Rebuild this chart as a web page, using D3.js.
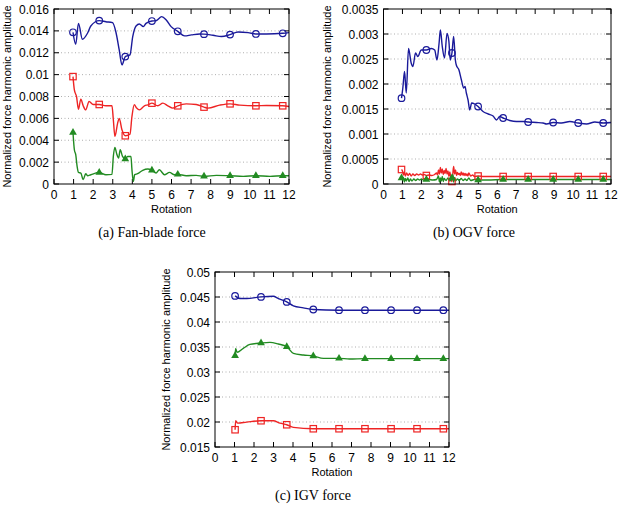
<!DOCTYPE html>
<html>
<head>
<meta charset="utf-8">
<script src="https://cdn.jsdelivr.net/npm/d3@7"></script>
<style>
  body { margin: 0; background: #fff; }
  svg { display: block; }
  .tick-label { font-family: "Liberation Sans", Arial, sans-serif; font-size: 12px; fill: #000; }
  .axis-title { font-family: "Liberation Sans", Arial, sans-serif; font-size: 11px; fill: #000; }
  .caption { font-family: "Liberation Serif", "DejaVu Serif", serif; font-size: 14px; fill: #000; }
</style>
</head>
<body>
<svg id="chart" width="621" height="510"></svg>
<script>
// ---- data ----
const xTicks = [0, 1, 2, 3, 4, 5, 6, 7, 8, 9, 10, 11, 12];

// (a) Fan-blade force
const fanTicks = ["0", "0.002", "0.004", "0.006", "0.008", "0.01", "0.012", "0.014", "0.016"];
const fanMarkX = [0.97, 2.31, 3.64, 5.0, 6.32, 7.66, 8.99, 10.31, 11.68];
const fanBlue = [
  [0.97, 0.01387], [1.11, 0.01278], [1.25, 0.01469], [1.45, 0.01323], [1.71, 0.01378], [1.88, 0.01445],
  [2.31, 0.01494], [2.65, 0.01484], [2.99, 0.01475], [3.16, 0.0139], [3.33, 0.01226], [3.47, 0.01089],
  [3.64, 0.01165], [3.88, 0.0118], [4.02, 0.01348], [4.19, 0.01445], [4.36, 0.01463], [4.56, 0.01439],
  [4.7, 0.01469], [5.0, 0.0149], [5.21, 0.01493], [5.5, 0.0153], [5.73, 0.015], [5.98, 0.01439],
  [6.32, 0.01396], [6.67, 0.01354], [7.01, 0.01363], [7.44, 0.01372], [7.66, 0.0137], [8.12, 0.0136],
  [8.55, 0.01348], [8.99, 0.01366], [9.4, 0.0139], [9.91, 0.01384], [10.31, 0.01372], [10.85, 0.01372],
  [11.68, 0.01378], [12, 0.01384]
];
const fanRed = [
  [0.97, 0.00982], [1.04, 0.0086], [1.15, 0.008], [1.25, 0.00684], [1.37, 0.00776], [1.49, 0.00715],
  [1.62, 0.00678], [1.79, 0.00754], [2.0, 0.00727], [2.31, 0.00727], [2.65, 0.00715], [2.96, 0.00715],
  [3.03, 0.00587], [3.11, 0.00435], [3.25, 0.00557], [3.33, 0.006], [3.47, 0.00496], [3.64, 0.00441],
  [3.88, 0.00456], [3.98, 0.00617], [4.1, 0.00724], [4.22, 0.00694], [4.36, 0.00678], [4.62, 0.00715],
  [4.79, 0.00724], [5.0, 0.00739], [5.3, 0.00715], [5.56, 0.00739], [5.81, 0.00715], [6.07, 0.00694],
  [6.32, 0.00715], [6.75, 0.00733], [7.26, 0.00727], [7.66, 0.00703], [7.86, 0.00694], [8.46, 0.00721],
  [8.99, 0.00733], [9.49, 0.00721], [10.31, 0.00715], [10.85, 0.00718], [11.68, 0.00715], [12, 0.00709]
];
const fanGreen = [
  [0.97, 0.00471], [1.04, 0.00313], [1.11, 0.00268], [1.18, 0.00161], [1.25, 0.00106], [1.37, 0.001],
  [1.49, 0.0004], [1.62, 0.00094], [1.71, 0.00076], [1.88, 0.00085], [2.31, 0.00106], [2.65, 0.00085],
  [2.96, 0.00088], [3.03, 0.00252], [3.11, 0.00335], [3.2, 0.00277], [3.3, 0.00237], [3.38, 0.00313],
  [3.5, 0.00252], [3.64, 0.00228], [3.76, 0.00252], [3.93, 0.00252], [3.98, 0.00131], [4.05, 0.00024],
  [4.12, 0.00085], [4.27, 0.00094], [4.53, 0.00125], [4.79, 0.00137], [5.0, 0.00125], [5.21, 0.001],
  [5.38, 0.0013], [5.64, 0.00085], [5.9, 0.00106], [6.15, 0.00085], [6.32, 0.00088], [6.75, 0.00076],
  [7.26, 0.00079], [7.66, 0.0007], [8.29, 0.00079], [8.99, 0.00076], [9.66, 0.0007], [10.31, 0.00076],
  [11.03, 0.0007], [11.68, 0.00076], [12, 0.00076]
];

// (b) OGV force
const ogvTicks = ["0", "0.0005", "0.001", "0.0015", "0.002", "0.0025", "0.003", "0.0035"];
const ogvMarkX = [0.95, 2.26, 3.61, 4.99, 6.31, 7.63, 8.95, 10.27, 11.59];
const ogvBlue = [
  [0.95, 0.001717], [1.02, 0.00192], [1.11, 0.00225], [1.2, 0.00182], [1.32, 0.00271], [1.46, 0.00242],
  [1.55, 0.00235], [1.69, 0.00262], [1.81, 0.00255], [1.99, 0.00268], [2.26, 0.00268], [2.52, 0.00271],
  [2.7, 0.00268], [2.82, 0.00248], [2.93, 0.00281], [3.0, 0.00308], [3.1, 0.00275], [3.22, 0.00252],
  [3.35, 0.00301], [3.45, 0.00285], [3.52, 0.00248], [3.61, 0.00262], [3.7, 0.00295], [3.79, 0.00248],
  [3.84, 0.00238], [3.98, 0.00228], [4.11, 0.00208], [4.23, 0.00192], [4.3, 0.00195], [4.37, 0.00182],
  [4.46, 0.00168], [4.55, 0.00148], [4.65, 0.00162], [4.81, 0.0016], [4.99, 0.00155], [5.25, 0.00145],
  [5.52, 0.0014], [5.78, 0.00136], [5.96, 0.00128], [6.13, 0.00135], [6.31, 0.00132], [6.66, 0.00127],
  [7.01, 0.00125], [7.37, 0.00125], [7.63, 0.00124], [8.07, 0.00123], [8.42, 0.00122], [8.6, 0.0012],
  [8.95, 0.00123], [9.39, 0.00122], [9.83, 0.00125], [10.27, 0.00122], [10.71, 0.0012], [11.15, 0.00124],
  [11.59, 0.00122], [12, 0.00123]
];
const ogvRed = [
  [0.95, 0.00029], [1.0, 0.00026], [1.05, 0.00018], [1.1, 0.00024], [1.15, 0.00016], [1.22, 0.00022],
  [1.3, 0.00017], [1.38, 0.00021], [1.46, 0.00016], [1.55, 0.0002], [1.65, 0.00017], [1.75, 0.0002],
  [1.85, 0.00018], [1.95, 0.0002], [2.05, 0.00018], [2.15, 0.00019], [2.26, 0.00017], [2.4, 0.00018],
  [2.55, 0.00017], [2.7, 0.00019], [2.8, 0.00022], [2.85, 0.00018], [2.9, 0.00028], [2.95, 0.0002],
  [3.0, 0.00033], [3.05, 0.00022], [3.1, 0.0003], [3.15, 0.00019], [3.2, 0.00027], [3.25, 0.00021],
  [3.3, 0.00031], [3.35, 0.0002], [3.4, 0.00026], [3.45, 0.00015], [3.5, 0.00024], [3.55, 0.00012],
  [3.61, 0.00005], [3.66, 0.00022], [3.7, 0.00035], [3.75, 0.0002], [3.8, 0.00028], [3.85, 0.00017],
  [3.9, 0.00023], [3.95, 0.00019], [4.0, 0.00021], [4.05, 0.00017], [4.1, 0.00024], [4.15, 0.00018],
  [4.2, 0.00022], [4.25, 0.00017], [4.3, 0.00021], [4.35, 0.00017], [4.4, 0.0002], [4.45, 0.00016],
  [4.5, 0.00022], [4.6, 0.00016], [4.7, 0.00018], [4.8, 0.00015], [4.99, 0.00016], [5.3, 0.00015],
  [5.7, 0.00015], [6.31, 0.00015], [7.0, 0.00015], [7.63, 0.00015], [8.3, 0.00015], [8.95, 0.00015],
  [9.6, 0.00015], [10.27, 0.00015], [10.9, 0.00015], [11.59, 0.00015], [12, 0.00015]
];
const ogvGreen = [
  [0.95, 0.00012], [1.0, 0.00008], [1.05, 0.00013], [1.1, 0.00004], [1.15, 0.00011], [1.2, 0.00006],
  [1.28, 0.00012], [1.35, 0.00005], [1.42, 0.0001], [1.5, 0.00006], [1.6, 0.0001], [1.7, 0.00007],
  [1.8, 0.0001], [1.9, 0.00008], [2.0, 0.0001], [2.1, 0.00008], [2.26, 0.00009], [2.4, 0.00009],
  [2.6, 0.00008], [2.8, 0.00009], [2.9, 0.00016], [2.95, 0.00004], [3.0, 0.00012], [3.05, 0.00006],
  [3.1, 0.00015], [3.15, 0.00005], [3.2, 0.00011], [3.3, 0.00007], [3.4, 0.00012], [3.5, 0.00006],
  [3.61, 0.00012], [3.66, 0.00018], [3.7, 0.00004], [3.75, 0.00013], [3.8, 0.00006], [3.9, 0.0001],
  [4.0, 0.00007], [4.1, 0.00011], [4.2, 0.00007], [4.3, 0.0001], [4.4, 0.00007], [4.5, 0.00012],
  [4.6, 0.00007], [4.8, 0.00009], [4.99, 0.00008], [5.5, 0.00008], [6.31, 0.00009], [7.0, 0.00009],
  [7.63, 0.00009], [8.3, 0.00009], [8.95, 0.00009], [9.6, 0.00009], [10.27, 0.00009], [10.9, 0.00009],
  [11.59, 0.00009], [12, 0.00009]
];

// (c) IGV force
const igvTicks = ["0.015", "0.02", "0.025", "0.03", "0.035", "0.04", "0.045", "0.05"];
const igvMarkX = [1.03, 2.36, 3.68, 5.04, 6.36, 7.69, 9.03, 10.36, 11.71];
const igvBlue = [
  [1.03, 0.04522], [1.28, 0.04469], [1.62, 0.04469], [2.36, 0.04502], [2.99, 0.04515], [3.25, 0.04469],
  [3.68, 0.04402], [4.02, 0.04323], [4.53, 0.04283], [5.04, 0.0425], [6.36, 0.04236], [7.69, 0.04236],
  [9.03, 0.04236], [10.36, 0.04236], [11.71, 0.04236], [12, 0.04236]
];
const igvGreen = [
  [1.03, 0.03326], [1.06, 0.03473], [1.13, 0.03393], [1.45, 0.03473], [1.79, 0.03552], [2.36, 0.03579],
  [2.82, 0.03592], [3.25, 0.03559], [3.68, 0.03506], [4.02, 0.03373], [4.53, 0.0334], [5.04, 0.0332],
  [5.56, 0.03273], [6.36, 0.03273], [6.9, 0.0326], [7.69, 0.03267], [9.03, 0.03267], [10.36, 0.03267],
  [11.71, 0.03267], [12, 0.03267]
];
const igvRed = [
  [1.03, 0.01845], [1.06, 0.02025], [1.16, 0.01978], [1.62, 0.01998], [2.36, 0.02025], [2.99, 0.02025],
  [3.33, 0.01978], [3.68, 0.01945], [4.02, 0.01892], [5.04, 0.01865], [6.36, 0.01865], [7.69, 0.01865],
  [9.03, 0.01865], [10.36, 0.01865], [11.71, 0.01865], [12, 0.01865]
];

const blue = "#1a1a9a", red = "#ee2424", green = "#228b22";

const svg = d3.select("#chart");

function drawPanel(p) {
  const xScale = d3.scaleLinear().domain([0, 12]).range([p.left, p.right]);
  const yScale = d3.scaleLinear().domain([+p.ticks[0], +p.ticks[p.ticks.length - 1]]).range([p.bottom, p.top]);
  const g = svg.append("g");

  // dotted grid
  g.selectAll(".grid").data(p.ticks.slice(1, -1)).enter().append("line")
    .attr("x1", p.left).attr("x2", p.right)
    .attr("y1", (d) => yScale(+d)).attr("y2", (d) => yScale(+d))
    .attr("stroke", "#9a9a9a").attr("stroke-width", 0.8).attr("stroke-dasharray", "1,2.5");

  // inward ticks on all four sides
  const tl = 5;
  xTicks.forEach((t) => {
    const x = xScale(t);
    g.append("line").attr("x1", x).attr("x2", x).attr("y1", p.bottom).attr("y2", p.bottom - tl).attr("stroke", "#000");
    g.append("line").attr("x1", x).attr("x2", x).attr("y1", p.top).attr("y2", p.top + tl).attr("stroke", "#000");
  });
  p.ticks.forEach((t) => {
    const y = yScale(+t);
    g.append("line").attr("x1", p.left).attr("x2", p.left + tl).attr("y1", y).attr("y2", y).attr("stroke", "#000");
    g.append("line").attr("x1", p.right).attr("x2", p.right - tl).attr("y1", y).attr("y2", y).attr("stroke", "#000");
  });

  // tick labels
  g.selectAll(".xl").data(xTicks).enter().append("text").attr("class", "tick-label")
    .attr("x", (d) => xScale(d)).attr("y", p.bottom + 15).attr("text-anchor", "middle").text((d) => d);
  g.selectAll(".yl").data(p.ticks).enter().append("text").attr("class", "tick-label")
    .attr("x", p.left - 5).attr("y", (d) => yScale(+d) + 4.5).attr("text-anchor", "end").text((d) => d);

  // titles
  g.append("text").attr("class", "axis-title").attr("x", (p.left + p.right) / 2).attr("y", p.bottom + 28.5)
    .attr("text-anchor", "middle").text("Rotation");
  g.append("text").attr("class", "axis-title")
    .attr("transform", `translate(${p.yLabelX},${(p.top + p.bottom) / 2}) rotate(-90)`)
    .attr("text-anchor", "middle").text("Normalized force harmonic amplitude");
  g.append("text").attr("class", "caption").attr("x", p.capX).attr("y", p.bottom + 53)
    .attr("text-anchor", "middle").text(p.caption);

  const line = d3.line().x((d) => xScale(d[0])).y((d) => yScale(d[1])).curve(d3.curveMonotoneX);
  const isMark = (d) => p.markX.includes(d[0]);

  // lines
  p.series.forEach((s) => {
    g.append("path").datum(s.data).attr("fill", "none").attr("stroke", s.color)
      .attr("stroke-width", 1.4).attr("d", line);
  });

  // markers
  p.series.forEach((s) => {
    const pts = s.data.filter(isMark);
    if (s.shape === "circle") {
      g.selectAll(null).data(pts).enter().append("circle")
        .attr("cx", (d) => xScale(d[0])).attr("cy", (d) => yScale(d[1])).attr("r", 3.3)
        .attr("fill", "none").attr("stroke", s.color).attr("stroke-width", 1.2);
    } else if (s.shape === "square") {
      g.selectAll(null).data(pts).enter().append("rect")
        .attr("x", (d) => xScale(d[0]) - 3.2).attr("y", (d) => yScale(d[1]) - 3.2)
        .attr("width", 6.4).attr("height", 6.4)
        .attr("fill", "none").attr("stroke", s.color).attr("stroke-width", 1.2);
    } else {
      g.selectAll(null).data(pts).enter().append("path")
        .attr("d", d3.symbol().type(d3.symbolTriangle).size(26))
        .attr("transform", (d) => `translate(${xScale(d[0])},${yScale(d[1])})`)
        .attr("fill", s.color);
    }
  });

  // frame
  g.append("rect").attr("x", p.left).attr("y", p.top)
    .attr("width", p.right - p.left).attr("height", p.bottom - p.top)
    .attr("fill", "none").attr("stroke", "#000").attr("stroke-width", 1);
}

drawPanel({
  left: 54, right: 289, top: 9, bottom: 184, yLabelX: 11, capX: 152,
  ticks: fanTicks, markX: fanMarkX, caption: "(a) Fan-blade force",
  series: [
    { data: fanBlue, color: blue, shape: "circle" },
    { data: fanRed, color: red, shape: "square" },
    { data: fanGreen, color: green, shape: "triangle" }
  ]
});

drawPanel({
  left: 383.5, right: 611, top: 9, bottom: 184, yLabelX: 331, capX: 474,
  ticks: ogvTicks, markX: ogvMarkX, caption: "(b) OGV force",
  series: [
    { data: ogvBlue, color: blue, shape: "circle" },
    { data: ogvRed, color: red, shape: "square" },
    { data: ogvGreen, color: green, shape: "triangle" }
  ]
});

drawPanel({
  left: 215, right: 449, top: 272, bottom: 447, yLabelX: 170, capX: 313,
  ticks: igvTicks, markX: igvMarkX, caption: "(c) IGV force",
  series: [
    { data: igvBlue, color: blue, shape: "circle" },
    { data: igvRed, color: red, shape: "square" },
    { data: igvGreen, color: green, shape: "triangle" }
  ]
});
</script>
</body>
</html>
